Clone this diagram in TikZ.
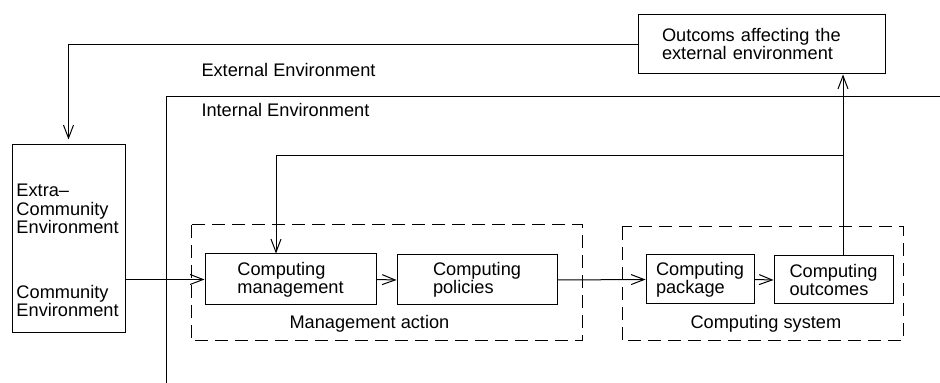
\documentclass[tikz,border=0pt]{standalone}
\usepackage{fontspec}
\setmainfont{Liberation Sans}
\usetikzlibrary{arrows.meta}

\begin{document}
\begin{tikzpicture}[x=0.5pt,y=-0.5pt,line width=0.5pt,
    >={Straight Barb[length=6.5pt,width=5pt]},
    every node/.style={font=\fontsize{9.1}{9}\selectfont},
    box/.style={draw,rectangle,align=left,inner sep=0pt},
    txt/.style={anchor=base west,inner sep=0pt,align=left},
    dashbox/.style={dash pattern=on 6.5pt off 3.5pt}]

    \useasboundingbox (0,0) rectangle (940,383);

    % Boxes
    \node[box,minimum width=56.5pt,minimum height=94pt] (env) at (68.5,239) {};
    \node[box,minimum height=29.5pt,text width=99.5pt,inner xsep=12pt] (ext) at (761.5,44.5)
        {Outcoms affecting the\\external environment};
    \node[box,minimum width=85.5pt,minimum height=25.5pt] (mgmt) at (290.5,279.5) {Computing\\management};
    \node[box,minimum width=80pt,minimum height=25pt] (pol) at (477,280) {Computing\\policies};
    \node[box,minimum width=54pt,minimum height=24.5pt] (pack) at (700,279.5) {Computing\\package};
    \node[box,minimum width=59.5pt,minimum height=24pt] (outc) at (833.5,280) {Computing\\outcomes};

    % Texts (base = last line)
    \node[txt] (extra) at (16,234) {Extra--\\[0.3pt]Community\\[0.3pt]Environment};
    \node[txt] (comm) at (16,317) {Community\\[0.3pt]Environment};
    \node[txt] (extlbl) at (201,77) {External Environment};
    \node[txt] (intlbl) at (201,117) {Internal Environment};
    \node[txt] (actlbl) at (289,329) {Management action};
    \node[txt] (syslbl) at (690,329) {Computing system};

    % Environment border and groups
    \draw (166.7,383) -- (166.7,96.7) -- (940,96.7);
    \draw[dashbox] (191,225) rectangle (582,341);
    \draw[dashbox] (622,227) rectangle (903,341);

    % Connectors
    \coordinate (up) at (843,0);
    \coordinate (fbr) at (843,156);
    \coordinate (fbl) at (276,156);
    \draw[->] (env.east |- mgmt.west) -- (mgmt.west);
    \draw[->] (mgmt.east) -- (pol.west);
    \draw[->] (pol.east) -- (pack.west);
    \draw[->] (pack.east) -- (outc.west);
    \draw[->] (outc.north -| up) -- (ext.south -| up);
    \draw[->] (fbr) -- (fbl) -- (mgmt.north -| fbl);
    \draw[->,shorten >=2.5pt] (ext.west) -| (env.north);

\end{tikzpicture}
\end{document}
